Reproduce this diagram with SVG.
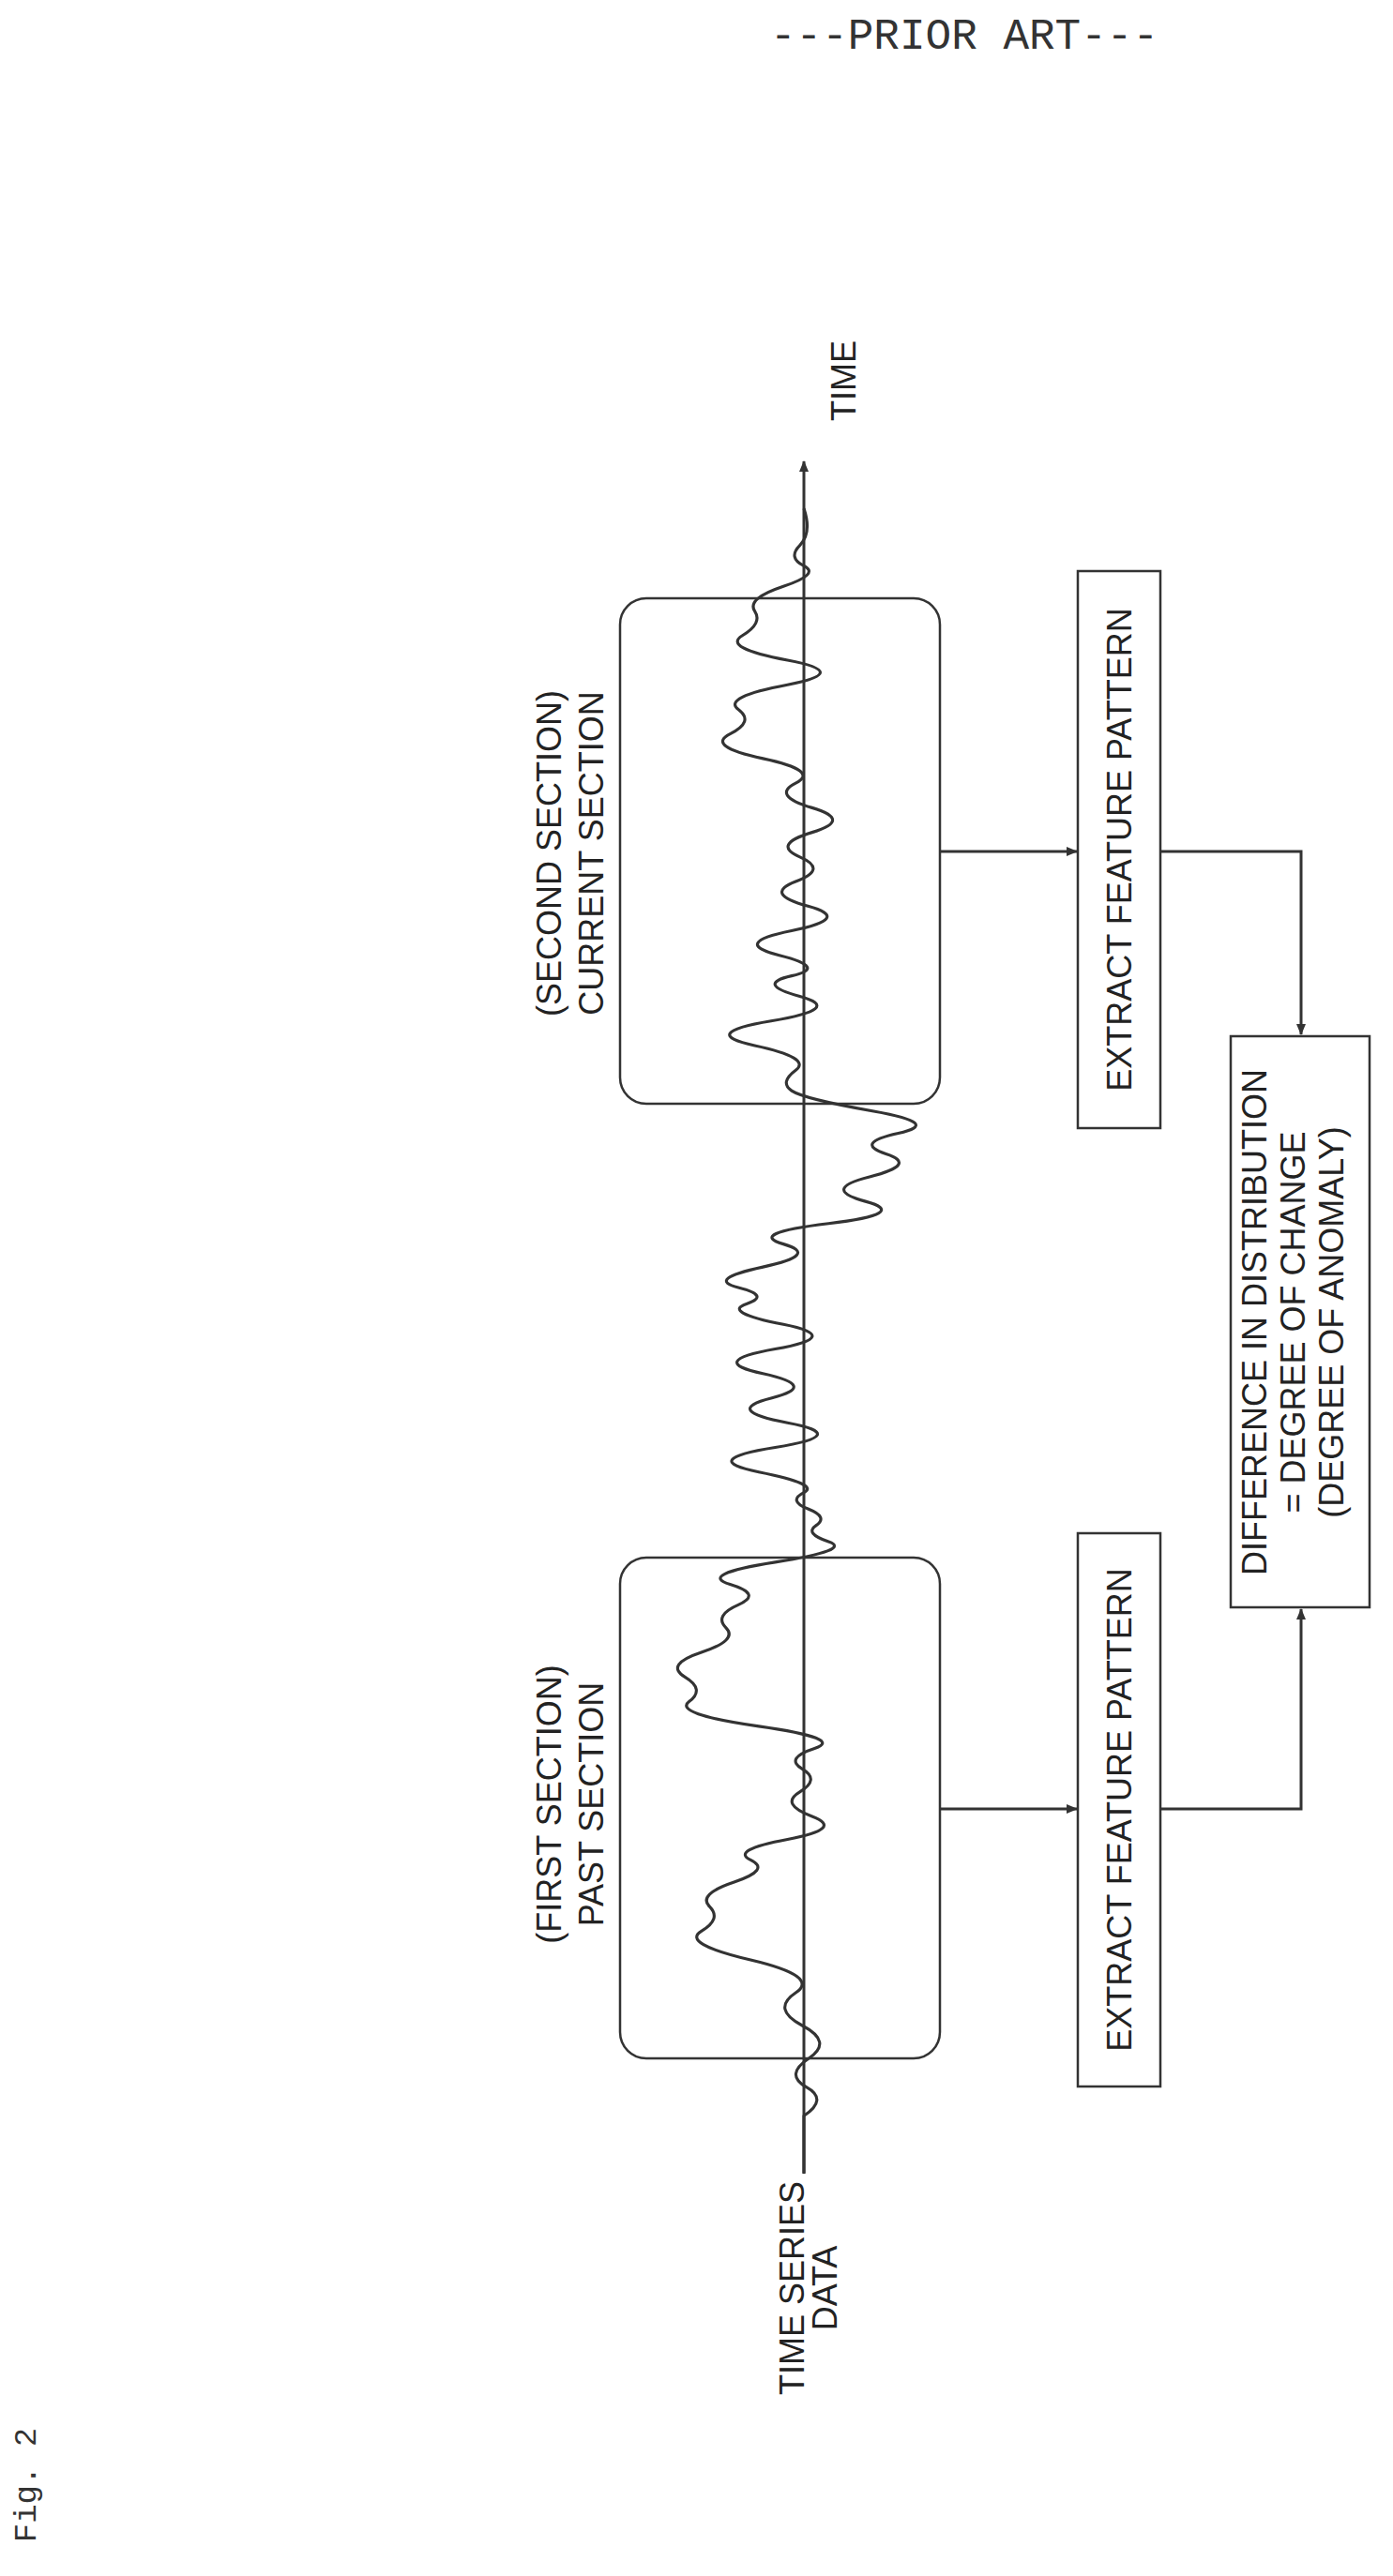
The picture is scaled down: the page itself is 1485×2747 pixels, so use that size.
<svg xmlns="http://www.w3.org/2000/svg" width="1485" height="2747" viewBox="0 0 1485 2747">
<style>
.t{font-family:"Liberation Sans",Arial,sans-serif;font-size:36px;fill:#222;text-anchor:middle}
.m{font-family:"Liberation Mono","Courier New",monospace;fill:#333;text-anchor:middle}
.b{fill:none;stroke:#333;stroke-width:2.5}
.c{fill:none;stroke:#333;stroke-width:3}
</style>
<defs>
<marker id="ah" markerWidth="12" markerHeight="10" refX="11" refY="5" orient="auto" markerUnits="userSpaceOnUse">
<path d="M0,0 L12,5 L0,10 Z" fill="#333"/>
</marker>
</defs>
<rect width="1485" height="2747" fill="#fff"/>
<text class="m" x="1028" y="52" font-size="46">---PRIOR ART---</text>
<text class="m" font-size="34" transform="translate(38,2650) rotate(-90)">Fig. 2</text>

<g id="axis">
<line class="c" x1="857" y1="2318" x2="857" y2="492" marker-end="url(#ah)"/>
<text class="t" transform="translate(912,406) rotate(-90)">TIME</text>
<text class="t" font-size="34" transform="translate(857,2440) rotate(-90)">TIME SERIES</text>
<text class="t" font-size="34" transform="translate(892,2440) rotate(-90)">DATA</text>
</g>

<g id="wave" transform="scale(1.749)">
<path fill="none" stroke="#333" stroke-width="1.8" stroke-linejoin="round" d="M490,1325 L490,1290 Q505,1280 491.5,1272.5 Q478,1265 493,1255 Q508,1245 489,1235 Q470,1225 485,1215 Q500,1205 457.5,1195 Q415,1185 427.5,1177.5 Q440,1170 432.5,1162.5 Q425,1155 447.5,1147.5 Q470,1140 457.5,1134 Q445,1128 480,1121.5 Q515,1115 495,1107.5 Q475,1100 487.5,1092.5 Q500,1085 489,1078.5 Q478,1072 496.5,1066 Q515,1060 462.5,1052.5 Q410,1045 420,1037.5 Q430,1030 417.5,1022.5 Q405,1015 427.5,1007.5 Q450,1000 442.5,992.5 Q435,985 450,978.5 Q465,972 445,966 Q425,960 472.5,952.5 Q520,945 505,940 Q490,935 497.5,930 Q505,925 492.5,920 Q480,915 490,910 Q500,905 462.5,897.5 Q425,890 472.5,882.5 Q520,875 480,867.5 Q440,860 470,852.5 Q500,845 465,837.5 Q430,830 472.5,822.5 Q515,815 477.5,807.5 Q440,800 455,795 Q470,790 450,785 Q430,780 465,772.5 Q500,765 477.5,758.5 Q455,752 505,746 Q555,740 527.5,732.5 Q500,725 530,717.5 Q560,710 540,703.5 Q520,697 547.5,691 Q575,685 532.5,677.5 Q490,670 482.5,665 Q475,660 485,652.5 Q495,645 460,637.5 Q425,630 470,622.5 Q515,615 487.5,607.5 Q460,600 482.5,595 Q505,590 475,582.5 Q445,575 482.5,567.5 Q520,560 492.5,552.5 Q465,545 485,537.5 Q505,530 487.5,522.5 Q470,515 495,507.5 Q520,500 495,492.5 Q470,485 485,477.5 Q500,470 465,462.5 Q430,455 445,447.5 Q460,440 450,432.5 Q440,425 480,417.5 Q520,410 480,402.5 Q440,395 452.5,387.5 Q465,380 460,372.5 Q455,365 477.5,357.5 Q500,350 490,345 Q480,340 487.5,332.5 Q495,325 490,310"/>
</g>

<g id="past">
<rect class="b" x="661" y="1661" width="341" height="534" rx="28"/>
<text class="t" transform="translate(598,1924) rotate(-90)">(FIRST SECTION)</text>
<text class="t" transform="translate(643,1924) rotate(-90)">PAST SECTION</text>
</g>
<g id="current">
<rect class="b" x="661" y="638" width="341" height="539" rx="28"/>
<text class="t" transform="translate(598,910) rotate(-90)">(SECOND SECTION)</text>
<text class="t" transform="translate(643,910) rotate(-90)">CURRENT SECTION</text>
</g>
<g id="extract1">
<rect class="b" x="1149" y="1635" width="88" height="590"/>
<text class="t" transform="translate(1206,1930) rotate(-90)">EXTRACT FEATURE PATTERN</text>
</g>
<g id="extract2">
<rect class="b" x="1149" y="609" width="88" height="594"/>
<text class="t" transform="translate(1206,906) rotate(-90)">EXTRACT FEATURE PATTERN</text>
</g>
<g id="diff">
<rect class="b" x="1312" y="1105" width="148" height="609"/>
<text class="t" font-size="33" transform="translate(1350,1410) rotate(-90)">DIFFERENCE IN DISTRIBUTION</text>
<text class="t" font-size="33" transform="translate(1391,1410) rotate(-90)">= DEGREE OF CHANGE</text>
<text class="t" font-size="33" transform="translate(1432,1410) rotate(-90)">(DEGREE OF ANOMALY)</text>
</g>
<g id="connectors">
<line class="c" x1="1002" y1="1929" x2="1148" y2="1929" marker-end="url(#ah)"/>
<line class="c" x1="1002" y1="908" x2="1148" y2="908" marker-end="url(#ah)"/>
<polyline class="c" points="1237,1929 1387,1929 1387,1716" marker-end="url(#ah)"/>
<polyline class="c" points="1237,908 1387,908 1387,1103" marker-end="url(#ah)"/>
</g>
</svg>
